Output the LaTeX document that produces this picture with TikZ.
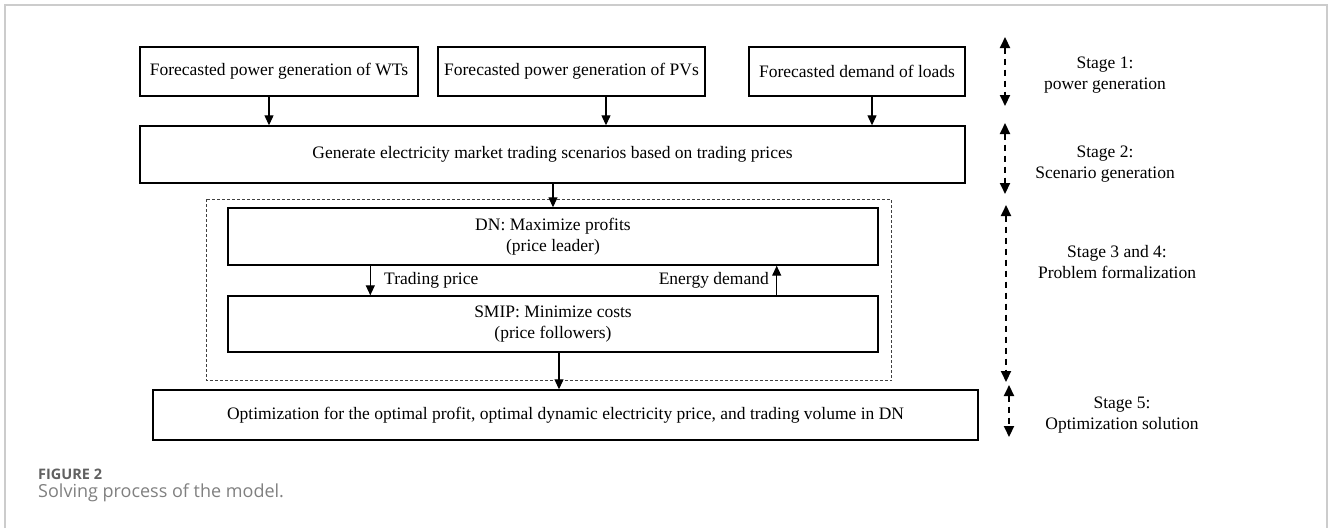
\documentclass[tikz,border=0pt]{standalone}
\usepackage{fontspec}
\setmainfont{Liberation Serif}
\newfontfamily\capfont{Open Sans}
\usetikzlibrary{arrows.meta,positioning}

\begin{document}
\begin{tikzpicture}[x=1pt,y=-1pt,>={Triangle[length=10pt,width=9pt]},font=\fontsize{17.5}{21}\selectfont]
\tikzstyle{box}=[draw=black,line width=1.4pt,rectangle,inner sep=0pt,align=center]
\tikzstyle{flow}=[->,line width=1.2pt]
\tikzstyle{stagearrow}=[{Triangle[length=11pt,width=10pt]}-{Triangle[length=11pt,width=10pt]},line width=2pt,dash pattern=on 6pt off 5pt]
\tikzstyle{stagetext}=[align=center,inner sep=0pt]
\useasboundingbox (0,0) rectangle (1332,528);
% card frame
\draw[black!20,line width=1.5pt] (5,528) -- (5,5) -- (1327,5) -- (1327,528);
% boxes
\node[box,minimum width=278pt,minimum height=49pt] (wt) at (279,71.5) {Forecasted power generation of WTs};
\node[box,minimum width=267pt,minimum height=49pt] (pv) at (571.5,71.5) {Forecasted power generation of PVs};
\node[box,minimum width=216pt,minimum height=49pt] (ld) at (857,71.5) {Forecasted demand of loads};
\node[box,minimum width=825pt,minimum height=57pt] (scen) at (552.5,154.5) {Generate electricity market trading scenarios based on trading prices};
\node[box,minimum width=650pt,minimum height=57pt] (dn) at (553,236.5) {DN: Maximize profits\\(price leader)};
\node[box,minimum width=650pt,minimum height=56pt] (smip) at (553,324) {SMIP: Minimize costs\\(price followers)};
\node[box,minimum width=825pt,minimum height=50pt] (opt) at (565.5,415) {Optimization for the optimal profit, optimal dynamic electricity price, and trading volume in DN};
% game frame
\draw[black!75,line width=0.8pt,dash pattern=on 3pt off 2pt] ([xshift=-21pt,yshift=8pt]dn.north west) rectangle ([xshift=13pt,yshift=-28pt]smip.south east);
% flows
\path[flow] ([xshift=-10pt]wt.south) edge ([xshift=-10pt]wt.south |- scen.north)
            ([xshift=34.5pt]pv.south) edge ([xshift=34.5pt]pv.south |- scen.north)
            ([xshift=15pt]ld.south) edge ([xshift=15pt]ld.south |- scen.north)
            (scen.south -| dn.north) edge (dn.north)
            ([xshift=143pt]dn.south west) edge node[right=10pt]{Trading price} ([xshift=143pt]dn.south west |- smip.north)
            ([xshift=-102pt]smip.north east) edge node[left=4pt]{Energy demand} ([xshift=-102pt]smip.north east |- dn.south)
            ([xshift=6pt]smip.south) edge ([xshift=6pt]smip.south |- opt.north);
% stages
\coordinate (s1t) at (1005,37);  \coordinate (s1b) at (1005,106);
\coordinate (s2t) at (1005,123); \coordinate (s2b) at (1005,194);
\coordinate (s3t) at (1006,205); \coordinate (s3b) at (1006,382);
\coordinate (s5t) at (1009,385); \coordinate (s5b) at (1009,437);
\draw[stagearrow] (s1t) -- (s1b);
\draw[stagearrow] (s2t) -- (s2b);
\draw[stagearrow] (s3t) -- (s3b);
\draw[stagearrow] (s5t) -- (s5b);
\node[stagetext] (st1) at (1105,75.5) {Stage 1:\\power generation};
\node[stagetext] (st2) at (1105,164) {Stage 2:\\Scenario generation};
\node[stagetext] (st3) at (1117,262.5) {Stage 3 and 4:\\Problem formalization};
\node[stagetext] (st5) at (1122,415.5) {Stage 5:\\Optimization solution};
% caption
\node[anchor=west,inner sep=0pt,text=black!62,font=\capfont\bfseries\fontsize{14.5}{16}\selectfont] (fig) at (38,474) {FIGURE 2};
\node[below=4pt of fig.south west,anchor=north west,inner sep=0pt,text=black!50,font=\capfont\fontsize{18}{21}\selectfont] (cap) {Solving process of the model.};
\end{tikzpicture}
\end{document}
